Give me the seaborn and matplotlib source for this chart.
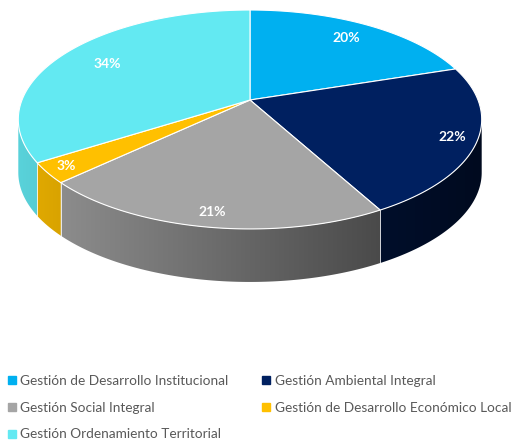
import numpy as np
import matplotlib.pyplot as plt
import seaborn as sns
from matplotlib.patches import Polygon
from matplotlib.lines import Line2D
from matplotlib.colors import to_rgb

sns.set_theme(style="white")
plt.rcParams['font.family'] = ['Lato', 'DejaVu Sans']

# data
categories = ["Gestión de Desarrollo Institucional", "Gestión Ambiental Integral",
              "Gestión Social Integral", "Gestión de Desarrollo Económico Local",
              "Gestión Ordenamiento Territorial"]
values = [20, 22, 21, 3, 34]
colors = ["#00B0F0", "#002060", "#A5A5A5", "#FFC000", "#63E9F2"]
label_r = [0.80, 0.90, 0.90, 0.92, 0.76]

# geometry of the 3d pie (pixel space, simple perspective)
cx, cy, sx, sy, k, depth = 250, 100, 228, 106, 0.178, 53

fig = plt.figure(figsize=(5.13, 4.43), dpi=100)
ax = fig.add_axes([0, 0, 1, 1])
ax.set_xlim(0, 513)
ax.set_ylim(443, 0)
ax.axis("off")

def pt(t, r=1.0, dy=0.0):
    u = r * np.sin(t)
    v = -r * np.cos(t)
    w = 1 - k * v
    return cx + sx * u / w, cy + sy * v / w + dy

fracs = np.array(values) / sum(values)
starts = np.concatenate([[0], np.cumsum(fracs)[:-1]]) * 2 * np.pi
ends = np.cumsum(fracs) * 2 * np.pi

# visible side runs between the silhouette points
t_lo = np.arccos(-k)
t_hi = 2 * np.pi - t_lo

# side walls with horizontal gradient
xs_grad = np.linspace(0, 513, 514)
shade = np.clip(0.9 - 0.00125 * (xs_grad - 20), 0, 1)
for a, b, c in zip(starts, ends, colors):
    lo, hi = max(a, t_lo), min(b, t_hi)
    if lo >= hi:
        continue
    ts = np.linspace(lo, hi, 200)
    x_top, y_top = pt(ts)
    poly = list(zip(x_top, y_top)) + list(zip(x_top[::-1], y_top[::-1] + depth))
    patch = Polygon(poly, closed=True, facecolor="none", edgecolor="none")
    ax.add_patch(patch)
    base = np.array(to_rgb(c))
    img = np.clip(shade[None, :, None] * base[None, None, :], 0, 1)
    im = ax.imshow(img, extent=(0, 513, 443, 0), aspect="auto", interpolation="bilinear", zorder=1)
    im.set_clip_path(patch)
    if lo > t_lo + 1e-6:
        x0, y0 = pt(lo)
        ax.plot([x0, x0], [y0, y0 + depth], color="white", lw=0.7, alpha=0.8, zorder=2)

# top faces
for a, b, c in zip(starts, ends, colors):
    ts = np.linspace(a, b, 200)
    xs, ys = pt(ts)
    poly = [(cx, cy)] + list(zip(xs, ys))
    ax.add_patch(Polygon(poly, closed=True, facecolor=c, edgecolor="white", lw=0.8, zorder=3))

# labels
for a, b, v, r in zip(starts, ends, values, label_r):
    xm, ym = pt((a + b) / 2, r)
    ax.text(xm, ym, f"{v}%", color="white", fontsize=10, fontweight="bold",
            ha="center", va="center", zorder=4)

# legend
handles = [Line2D([], [], marker="s", linestyle="", markersize=5.5,
                  markerfacecolor=c, markeredgecolor=c) for c in colors]
order = [0, 2, 4, 1, 3]
fig.legend([handles[i] for i in order], [categories[i] for i in order],
           loc="lower left", bbox_to_anchor=(-0.014, -0.022), ncol=2, frameon=False,
           fontsize=9.8, labelcolor="#595959", handletextpad=0.1,
           handlelength=1.0, columnspacing=2.3, labelspacing=1.08)

fig.savefig("out.png", dpi=100)
